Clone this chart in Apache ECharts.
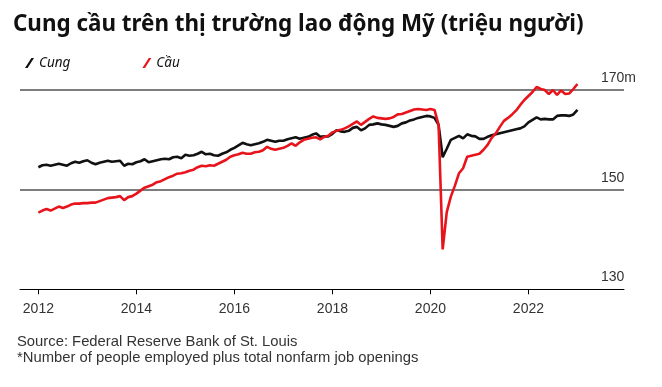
<!DOCTYPE html>
<html>
<head>
<meta charset="utf-8">
<script src="https://cdn.jsdelivr.net/npm/echarts@6/dist/echarts.min.js"></script>
<style>html,body{margin:0;padding:0;background:#fff;}#c{width:662px;height:387px;}</style>
</head>
<body>
<div id="c"></div>
<script>
// Monthly values, Jan 2012 .. Jan 2023 (millions)
const startYear = 2012;
const supplyCung = [
  154.5,154.9,155.0,154.8,155.0,155.2,155.0,154.8,155.3,155.6,155.4,155.7,
  155.9,155.4,155.1,155.4,155.6,155.8,155.6,155.7,155.8,154.8,155.2,155.1,
  155.5,155.7,156.1,155.5,155.7,155.9,156.1,156.2,156.1,156.5,156.6,156.3,
  157.0,156.8,156.9,157.2,157.6,157.1,157.2,156.9,156.8,157.2,157.5,158.0,
  158.4,158.9,159.4,159.1,158.9,159.1,159.3,159.6,160.0,159.8,159.6,159.8,
  159.8,160.1,160.3,160.5,160.2,160.4,160.6,161.0,161.3,160.6,160.7,160.7,
  161.2,161.9,161.7,161.6,161.8,162.4,162.6,161.9,162.3,163.0,163.1,163.3,
  163.1,163.0,162.8,162.6,162.8,163.3,163.5,163.9,164.1,164.4,164.6,164.8,
  164.7,164.4,163.0,156.5,158.2,160.0,160.4,160.8,160.3,161.1,160.8,160.7,
  160.2,160.2,160.6,160.9,161.1,161.3,161.5,161.7,161.9,162.1,162.3,162.7,
  163.5,164.0,164.5,164.1,164.2,164.1,164.1,164.8,164.9,164.9,164.8,165.1,
  166.0
];
const demandCau = [
  145.4,145.8,146.1,145.8,146.2,146.6,146.3,146.6,147.0,147.2,147.2,147.3,
  147.3,147.4,147.4,147.7,148.0,148.3,148.4,148.5,148.7,147.9,148.5,148.7,
  149.2,149.8,150.4,150.7,151.0,151.5,151.7,152.1,152.5,152.8,153.2,153.3,
  153.5,153.8,154.0,154.5,154.8,154.7,154.9,154.8,155.2,155.6,156.0,156.6,
  156.9,157.1,157.4,157.2,157.2,157.5,157.6,157.9,158.6,158.2,158.0,158.2,
  158.4,158.8,159.3,158.8,159.5,160.0,160.2,160.4,160.5,160.1,160.6,160.8,
  161.5,161.8,162.0,162.3,162.7,163.2,163.7,163.0,163.6,164.2,164.7,164.4,
  164.3,164.2,164.3,164.6,165.1,165.2,165.5,165.8,166.1,166.2,166.1,166.0,
  166.2,166.0,163.0,138.0,145.5,148.6,150.8,153.3,154.3,156.6,156.8,157.0,
  157.2,158.0,159.0,160.4,161.3,162.6,163.8,164.4,165.1,165.9,167.0,168.0,
  168.8,169.6,170.6,170.2,170.0,169.2,170.0,169.0,169.9,169.2,169.3,170.2,
  171.2
];
const xTickLabels = ['2012','2014','2016','2018','2020','2022'];
const yTickValues = [130,150,170];
const seriesNames = ['Cung','Cầu'];

const toPairs = arr => arr.map((v,i)=>[i,v]);
const tickMonths = xTickLabels.map(y => (parseInt(y,10)-startYear)*12);

const chart = echarts.init(document.getElementById('c'), null, {renderer:'canvas'});
const iconPath = 'path://M0,10 L2.6,10 L9,0 L6.4,0 Z';
chart.setOption({
  animation:false,
  backgroundColor:'#fff',
  title:{
    text:'Cung cầu trên thị trường lao động Mỹ (triệu người)',
    left:8, top:9,
    textStyle:{fontFamily:'Noto Sans', fontWeight:'bold', fontSize:22.4, color:'#111'}
  },
  legend:{
    left:20, top:51, itemWidth:9, itemHeight:11, itemGap:72,
    icon:iconPath,
    data:[
      {name:seriesNames[0], itemStyle:{color:'#111'}},
      {name:seriesNames[1], itemStyle:{color:'#e8141c'}}
    ],
    textStyle:{fontFamily:'Noto Sans', fontStyle:'italic', fontSize:13.5, color:'#111', padding:[0,0,0,0]}
  },
  grid:{left:20, right:38, top:90, bottom:97.7},
  xAxis:{
    type:'value', min:-4.5, max:143.4,
    axisLine:{show:true, lineStyle:{color:'#000', width:1}},
    axisTick:{show:true, customValues:tickMonths, length:5, lineStyle:{color:'#000'}},
    axisLabel:{customValues:tickMonths, margin:13, color:'#333', fontFamily:'Liberation Sans, Arial', fontSize:14,
      formatter:v => xTickLabels[tickMonths.indexOf(Math.round(v))] || ''},
    splitLine:{show:false}
  },
  yAxis:{
    type:'value', position:'right', min:130, max:170, interval:20,
    axisLine:{show:false}, axisTick:{show:false},
    splitLine:{show:true, lineStyle:{color:['rgba(0,0,0,0)','#7d7d7d','#7d7d7d'], width:2}},
    axisLabel:{inside:false, margin:-23, align:'left', verticalAlign:'bottom', padding:[0,0,5,0],
      color:'#333', fontFamily:'Liberation Sans, Arial', fontSize:14,
      formatter:v => (v===yTickValues[yTickValues.length-1] ? v+'m' : String(v))}
  },
  series:[
    {name:seriesNames[0], type:'line', data:toPairs(supplyCung), showSymbol:false, clip:false,
      lineStyle:{color:'#111', width:2.6}, itemStyle:{color:'#111'}},
    {name:seriesNames[1], type:'line', data:toPairs(demandCau), showSymbol:false, clip:false,
      lineStyle:{color:'#e8141c', width:2.6}, itemStyle:{color:'#e8141c'}}
  ],
  graphic:[
    {type:'text', left:17, top:334, style:{text:'Source: Federal Reserve Bank of St. Louis', fill:'#333', fontFamily:'Liberation Sans, Arial', fontSize:14.8}},
    {type:'text', left:17, top:350, style:{text:'*Number of people employed plus total nonfarm job openings', fill:'#333', fontFamily:'Liberation Sans, Arial', fontSize:14.8}}
  ]
});
</script>
</body>
</html>
